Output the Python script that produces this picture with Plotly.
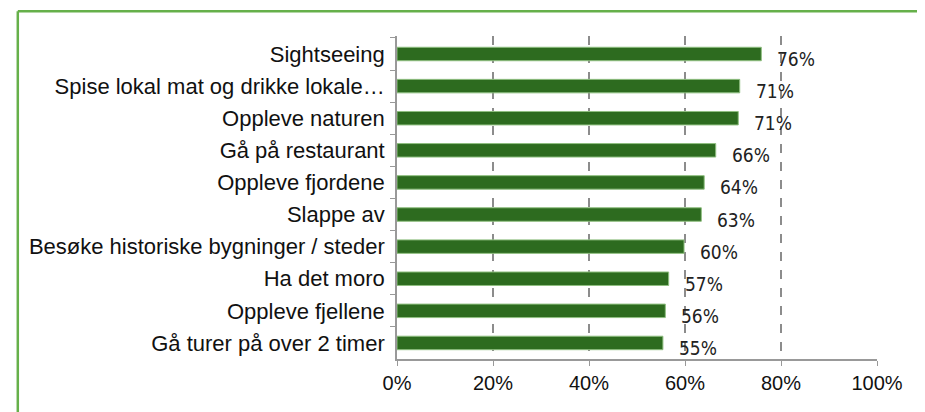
import plotly.graph_objects as go

# data
categories = [
    "Sightseeing",
    "Spise lokal mat og drikke lokale…",
    "Oppleve naturen",
    "Gå på restaurant",
    "Oppleve fjordene",
    "Slappe av",
    "Besøke historiske bygninger / steder",
    "Ha det moro",
    "Oppleve fjellene",
    "Gå turer på over 2 timer",
]
shares = [0.759, 0.714, 0.711, 0.664, 0.640, 0.634, 0.598, 0.566, 0.559, 0.554]
x_ticks = [0, 0.2, 0.4, 0.6, 0.8, 1.0]
x_labels = ["0%", "20%", "40%", "60%", "80%", "100%"]

fig = go.Figure()
fig.add_trace(go.Bar(
    x=shares, y=categories, orientation="h",
    width=0.42,
    marker=dict(color="#2d6b1f", line=dict(color="#8fbf80", width=1)),
    hoverinfo="x+y",
))

# data labels, a bit right of and below the bar end
for cat, val in zip(categories, shares):
    fig.add_annotation(
        x=val, y=cat, text=f"{val:.0%}", showarrow=False,
        xanchor="left", xshift=14, yshift=-5,
        font=dict(family="DejaVu Sans Condensed, DejaVu Sans", size=19, color="#222222"),
    )

# green frame: only top and left edges are inside the picture
frame = dict(color="#66b04a", width=2.5)
fig.add_shape(type="line", xref="paper", yref="paper",
              x0=-0.79, x1=1.5, y0=1.077, y1=1.077, line=frame)
fig.add_shape(type="line", xref="paper", yref="paper",
              x0=-0.79, x1=-0.79, y0=-0.5, y1=1.077, line=frame)

# page body has an 8px margin, so the margins are shifted by that
fig.update_layout(
    width=925, height=412,
    margin=dict(l=389, r=56, t=28, b=61),
    plot_bgcolor="white", paper_bgcolor="white",
    showlegend=False,
    font=dict(family="Liberation Sans, Arial", size=22, color="#111111"),
    xaxis=dict(
        range=[0, 1], tickvals=x_ticks, ticktext=x_labels,
        showgrid=True, gridcolor="#8c8c8c", griddash="dash", gridwidth=1.5,
        showline=True, linecolor="#999999", linewidth=1.5,
        ticks="outside", ticklen=5, tickcolor="#999999",
        tickfont=dict(size=20),
        zeroline=False, fixedrange=True,
    ),
    yaxis=dict(
        autorange="reversed", type="category",
        showline=True, linecolor="#999999", linewidth=1.5,
        ticks="outside", ticklen=5, tickcolor="#999999", tickson="boundaries",
        showgrid=False, ticksuffix=" ", fixedrange=True,
    ),
)

fig.write_html("out.html")
